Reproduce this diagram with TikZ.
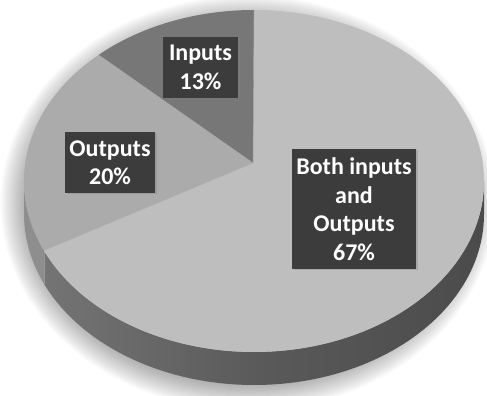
\documentclass[tikz,border=0pt]{standalone}
\usepackage{fontspec}
\setmainfont{Carlito}
\usetikzlibrary{shadows}
\definecolor{topboth}{HTML}{BEBEBE}
\definecolor{topout}{HTML}{ABABAB}
\definecolor{topin}{HTML}{777777}
\definecolor{sideout}{HTML}{8E8E8E}
\definecolor{sideL}{HTML}{747474}
\definecolor{sideR}{HTML}{4B4B4B}
\definecolor{boxgray}{HTML}{3C3C3C}
\tikzset{
  lbl/.style={fill=boxgray, text=white, align=center, inner sep=2pt,
    font=\bfseries\fontsize{24}{28.5}\selectfont,
    drop shadow={shadow xshift=1.5pt, shadow yshift=-1.5pt, opacity=0.35}},
  rr/.style={x radius=230, y radius=171}
}
\begin{document}
\begin{tikzpicture}[x=1pt,y=1pt]
\useasboundingbox (0,0) rectangle (487,396);
% soft shadow
\foreach \i in {0,...,16}{
  \fill[black,opacity=0.022] (248,193) ellipse[x radius={220+1.7*\i}, y radius={180+1.7*\i}];
}
\begin{scope}[shift={(254,215)}]
  \coordinate (apex) at (-1,18);
  % sides
  \path[fill=sideout] (180:230 and 171) coordinate (s0)
     arc[start angle=180,end angle=204,rr] -- ++(0,-33)
     arc[start angle=204,end angle=180,rr] -- cycle;
  \path[left color=sideL, right color=sideR, middle color=sideR!92!white] (204:230 and 171) coordinate (s1)
     arc[start angle=204,end angle=360,rr] -- ++(0,-33)
     arc[start angle=360,end angle=204,rr] -- cycle;
  \draw[black!40, line width=0.4pt] (s1) -- ++(0,-33);
  % top slices
  \fill[topboth] (apex) -- (90:230 and 171) coordinate (b0)
     arc[start angle=90,end angle=-156,rr] -- cycle;
  \fill[topin] (apex) -- (132.5:230 and 171) coordinate (b1)
     arc[start angle=132.5,end angle=90,rr] -- cycle;
  \fill[topout] (apex) -- (b1)
     arc[start angle=132.5,end angle=204,rr] -- cycle;
  \draw[black!35, line width=0.4pt] (apex) -- (b0);
  \draw[black!35, line width=0.4pt] (apex) -- (b1);
  \draw[black!30, line width=0.4pt] (apex) -- (s1);
\end{scope}
% labels
\node[lbl, minimum width=75, minimum height=61] (inp) at (200.5,328.5) {Inputs\\13\%};
\node[lbl, minimum width=90, minimum height=61] (outp) at (110,233.5) {Outputs\\20\%};
\node[lbl, minimum width=124, minimum height=120] (both) at (354,187) {Both inputs\\and\\Outputs\\67\%};
\end{tikzpicture}
\end{document}
